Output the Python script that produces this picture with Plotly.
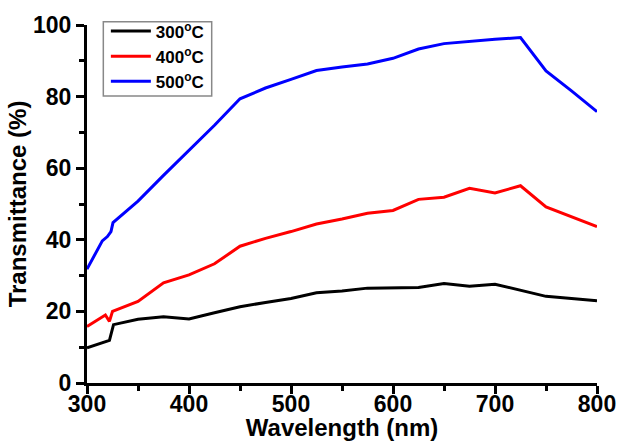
import plotly.graph_objects as go

wavelength_300 = [300, 310, 318, 322, 326, 350, 375, 400, 425, 450, 475, 500, 525, 550, 575, 600, 625, 650, 675, 700, 725, 750, 775, 800]
t_300 = [9.8, 10.8, 11.7, 11.9, 16.3, 17.8, 18.5, 17.9, 19.6, 21.3, 22.5, 23.6, 25.2, 25.7, 26.5, 26.7, 26.7, 27.8, 27.0, 27.6, 25.8, 24.2, 23.6, 23.0]

wavelength_400 = [300, 318, 322, 325, 350, 375, 400, 425, 450, 475, 500, 525, 550, 575, 600, 625, 650, 675, 700, 725, 750, 775, 800]
t_400 = [15.8, 19.0, 17.2, 20.0, 22.8, 28.0, 30.2, 33.3, 38.2, 40.4, 42.3, 44.4, 45.8, 47.4, 48.2, 51.3, 51.9, 54.4, 53.1, 55.1, 49.2, 46.4, 43.7]

wavelength_500 = [300, 315, 320, 323.5, 325.5, 350, 375, 400, 425, 450, 475, 500, 525, 550, 575, 600, 625, 650, 675, 700, 725, 750, 775, 800]
t_500 = [31.8, 39.7, 40.9, 42.3, 44.8, 50.8, 58.0, 65.0, 72.0, 79.4, 82.4, 84.8, 87.3, 88.3, 89.1, 90.7, 93.3, 94.8, 95.5, 96.0, 96.5, 87.2, 81.6, 75.8]

series = [
    ("300<sup>o</sup>C", wavelength_300, t_300, "#000000"),
    ("400<sup>o</sup>C", wavelength_400, t_400, "#ff0000"),
    ("500<sup>o</sup>C", wavelength_500, t_500, "#0000ff"),
]

fig = go.Figure()
for name, x, y, c in series:
    fig.add_trace(go.Scatter(x=x, y=y, mode="lines", name=name,
                             line=dict(color=c, width=3)))

font_family = "Liberation Sans, Arial, sans-serif"
axis_common = dict(
    showline=True, linecolor="black", linewidth=3,
    ticks="outside", ticklen=8, tickwidth=2.5, tickcolor="black",
    showgrid=False, zeroline=False, mirror=False, automargin=False,
    tickfont=dict(family=font_family, size=23, color="black", weight="bold"),
)

fig.update_layout(
    width=619, height=441,
    margin=dict(l=87, r=22, t=25, b=58),
    paper_bgcolor="white", plot_bgcolor="white",
    font=dict(family=font_family, color="black"),
    xaxis=dict(range=[300, 800], dtick=100, ticklabelstandoff=-10,
               minor=dict(dtick=50, ticks="outside", ticklen=5, tickwidth=2.5, tickcolor="black"),
               title=dict(text="<b>Wavelength (nm)</b>", font=dict(size=24, family=font_family), standoff=8),
               **axis_common),
    yaxis=dict(range=[0, 100], dtick=20,
               minor=dict(dtick=10, ticks="outside", ticklen=5, tickwidth=2.5, tickcolor="black"),
               title=dict(text="<b>Transmittance (%)</b>", font=dict(size=24, family=font_family), standoff=0),
               **axis_common),
    legend=dict(x=0.037, y=1.032, xanchor="left", yanchor="top",
                bgcolor="rgba(0,0,0,0)", borderwidth=0,
                font=dict(family=font_family, size=17, color="black", weight="bold"),
                tracegroupgap=0, itemwidth=40),
    shapes=[dict(type="rect", xref="paper", yref="paper",
                 x0=0.032, x1=0.2445, y0=0.802, y1=1.009,
                 line=dict(color="#888888", width=1.5), fillcolor="white", layer="below")],
    showlegend=True,
)

# remove the default 8px page margin so the figure fills the window exactly
fig.write_html("out.html", config={"displayModeBar": False},
               post_script="document.body.style.margin='0';document.body.style.overflow='hidden';")
